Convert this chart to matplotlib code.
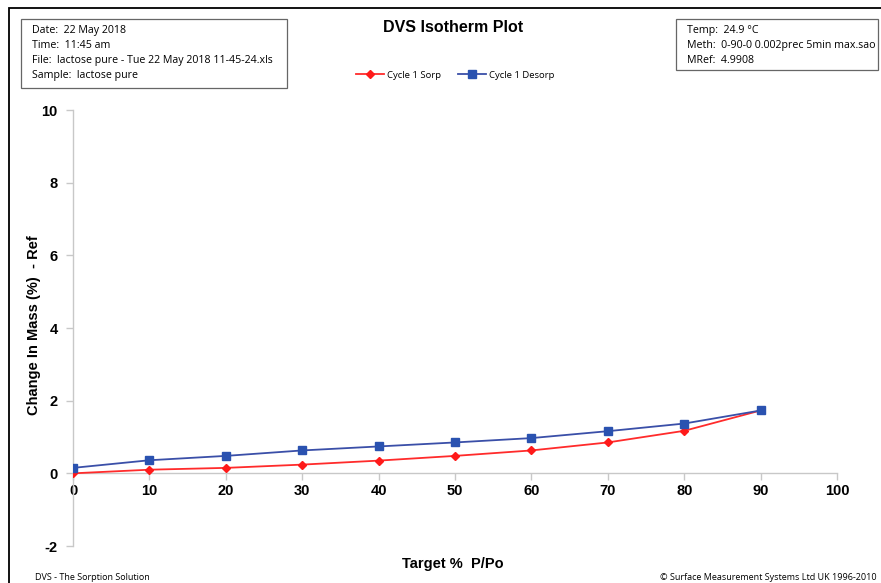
import matplotlib
matplotlib.use("Agg")
import matplotlib.pyplot as plt
from matplotlib.patches import Rectangle

plt.rcParams["axes.unicode_minus"] = False

target_pp = [0, 10, 20, 30, 40, 50, 60, 70, 80, 90]
sorp = [0.00, 0.10, 0.15, 0.24, 0.35, 0.48, 0.63, 0.85, 1.17, 1.73]
desorp = [0.15, 0.36, 0.48, 0.63, 0.74, 0.85, 0.97, 1.16, 1.37, 1.73]
x_ticks = [0, 10, 20, 30, 40, 50, 60, 70, 80, 90, 100]
y_ticks = [-2, 0, 2, 4, 6, 8, 10]

info_left = ["Date:  22 May 2018", "Time:  11:45 am",
             "File:  lactose pure - Tue 22 May 2018 11-45-24.xls",
             "Sample:  lactose pure"]
info_right = ["Temp:  24.9 \u00b0C", "Meth:  0-90-0 0.002prec 5min max.sao",
              "MRef:  4.9908"]

W, H = 881, 583
fig = plt.figure(figsize=(W / 100, H / 100), dpi=100)
fig.patch.set_facecolor("white")

def fx(px):
    return px / W

def fy(py):
    return 1 - py / H

# outer frame
fig.patches.append(Rectangle((fx(9), fy(H + 20)), 1.2, fy(8) - fy(H + 20),
                             transform=fig.transFigure, fill=False,
                             edgecolor="black", linewidth=1.3))

ax = fig.add_axes([fx(73), fy(546), fx(837) - fx(73), fy(110) - fy(546)])
ax.plot(target_pp, sorp, color="#ff2b2b", linewidth=1.3, marker="D",
        markersize=4.2, markerfacecolor="#ff1a1a", markeredgecolor="#ff1a1a",
        label="Cycle 1 Sorp", zorder=3)
ax.plot(target_pp, desorp, color="#3a4fa8", linewidth=1.3, marker="s",
        markersize=5.5, markerfacecolor="#2a52b0", markeredgecolor="#2a52b0",
        label="Cycle 1 Desorp", zorder=4)

ax.set_xlim(0, 100)
ax.set_ylim(-2, 10)
ax.set_xticks(x_ticks)
ax.set_yticks(y_ticks)
ax.spines["top"].set_visible(False)
ax.spines["right"].set_visible(False)
ax.spines["bottom"].set_position(("data", 0))
for s in ("bottom", "left"):
    ax.spines[s].set_color("#c8c8c8")
    ax.spines[s].set_linewidth(1.0)
ax.tick_params(axis="both", colors="#c8c8c8", length=5, width=1.0,
               labelcolor="black", labelsize=10.5)
ax.tick_params(axis="x", pad=3)
ax.tick_params(axis="y", pad=6)
for lab in ax.get_xticklabels() + ax.get_yticklabels():
    lab.set_fontweight("bold")
    lab.set_fontfamily("Liberation Sans")

fig.text(fx(34), fy(325), "Change In Mass (%)  - Ref", rotation=90,
         ha="center", va="center", fontsize=10.5, fontweight="bold",
         family="Liberation Sans")
fig.text(fx(453), fy(564), "Target %  P/Po", ha="center", va="center",
         fontsize=10.5, fontweight="bold", family="Liberation Sans")
fig.text(fx(453), fy(27), "DVS Isotherm Plot", ha="center", va="center",
         fontsize=11.5, fontweight="bold", family="Liberation Sans")

# info boxes
fig.patches.append(Rectangle((fx(21), fy(88)), fx(287) - fx(21), fy(19) - fy(88),
                             transform=fig.transFigure, fill=False,
                             edgecolor="#666666", linewidth=0.9))
for i, t in enumerate(info_left):
    fig.text(fx(32), fy(31 + i * 14.8), t, ha="left", va="center",
             fontsize=7.7, family="Open Sans")
fig.patches.append(Rectangle((fx(676), fy(70)), fx(878) - fx(676), fy(19) - fy(70),
                             transform=fig.transFigure, fill=False,
                             edgecolor="#666666", linewidth=0.9))
for i, t in enumerate(info_right):
    fig.text(fx(687), fy(31 + i * 14.8), t, ha="left", va="center",
             fontsize=7.7, family="Open Sans")

fig.text(fx(35), fy(577), "DVS - The Sorption Solution", ha="left",
         va="center", fontsize=6.5, family="Open Sans")
fig.text(fx(877), fy(577), "\u00a9 Surface Measurement Systems Ltd UK 1996-2010",
         ha="right", va="center", fontsize=6.5, family="Open Sans")

leg = fig.legend(loc="center", bbox_to_anchor=(fx(455), fy(75)), ncol=2,
                 frameon=False, handlelength=3.0,
                 columnspacing=1.8, handletextpad=0.3,
                 prop={"family": "Open Sans", "size": 6.8})

fig.savefig("out.png", dpi=100)
